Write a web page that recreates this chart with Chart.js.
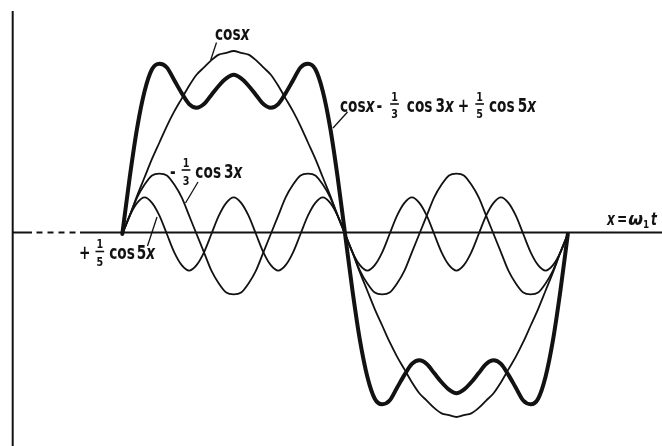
<!DOCTYPE html>
<html>
<head>
<meta charset="utf-8">
<script src="https://cdn.jsdelivr.net/npm/chart.js@4.4.1/dist/chart.umd.min.js"></script>
<style>
html,body{margin:0;padding:0;background:#fff;}
#wrap{width:662px;height:446px;position:relative;}
</style>
</head>
<body>
<div id="wrap"><canvas id="c"></canvas></div>
<script>
// x = omega_1 t, in degrees
const xDeg = [-90,-84,-78,-72,-66,-60,-54,-48,-42,-36,-30,-24,-18,-12,-6,0,6,12,18,24,30,36,42,48,54,60,66,72,78,84,90,96,102,108,114,120,126,132,138,144,150,156,162,168,174,180,186,192,198,204,210,216,222,228,234,240,246,252,258,264,270];

// cos x
const cosX = [0,0.10,0.21,0.31,0.41,0.50,0.59,0.67,0.74,0.81,0.87,0.91,0.95,0.98,0.99,1.00,0.99,0.98,0.95,0.91,0.87,0.81,0.74,0.67,0.59,0.50,0.41,0.31,0.21,0.10,0,-0.10,-0.21,-0.31,-0.41,-0.50,-0.59,-0.67,-0.74,-0.81,-0.87,-0.91,-0.95,-0.98,-0.99,-1.00,-0.99,-0.98,-0.95,-0.91,-0.87,-0.81,-0.74,-0.67,-0.59,-0.50,-0.41,-0.31,-0.21,-0.10,0];

// -1/3 cos 3x
const cos3X = [0,0.10,0.20,0.27,0.32,0.33,0.32,0.27,0.20,0.10,0,-0.10,-0.20,-0.27,-0.32,-0.33,-0.32,-0.27,-0.20,-0.10,0,0.10,0.20,0.27,0.32,0.33,0.32,0.27,0.20,0.10,0,-0.10,-0.20,-0.27,-0.32,-0.33,-0.32,-0.27,-0.20,-0.10,0,0.10,0.20,0.27,0.32,0.33,0.32,0.27,0.20,0.10,0,-0.10,-0.20,-0.27,-0.32,-0.33,-0.32,-0.27,-0.20,-0.10,0];

// +1/5 cos 5x
const cos5X = [0,0.10,0.17,0.20,0.17,0.10,0,-0.10,-0.17,-0.20,-0.17,-0.10,0,0.10,0.17,0.20,0.17,0.10,0,-0.10,-0.17,-0.20,-0.17,-0.10,0,0.10,0.17,0.20,0.17,0.10,0,-0.10,-0.17,-0.20,-0.17,-0.10,0,0.10,0.17,0.20,0.17,0.10,0,-0.10,-0.17,-0.20,-0.17,-0.10,0,0.10,0.17,0.20,0.17,0.10,0,-0.10,-0.17,-0.20,-0.17,-0.10,0];

// cos x - 1/3 cos 3x + 1/5 cos 5x
const sumX = [0,0.31,0.58,0.78,0.90,0.93,0.91,0.84,0.77,0.71,0.69,0.71,0.76,0.81,0.85,0.87,0.85,0.81,0.76,0.71,0.69,0.71,0.77,0.84,0.91,0.93,0.90,0.78,0.58,0.31,0,-0.31,-0.58,-0.78,-0.90,-0.93,-0.91,-0.84,-0.77,-0.71,-0.69,-0.71,-0.76,-0.81,-0.85,-0.87,-0.85,-0.81,-0.76,-0.71,-0.69,-0.71,-0.77,-0.84,-0.91,-0.93,-0.90,-0.78,-0.58,-0.31,0];

const INK = '#121212';
const FAMILY = '"DejaVu Sans"';
const SX = 0.72;

function series(label, vals, width) {
  return {
    label: label,
    data: xDeg.map((x, i) => ({ x: x, y: vals[i] })),
    borderColor: INK,
    borderWidth: width,
    pointRadius: 0,
    cubicInterpolationMode: 'monotone',
    fill: false,
    borderCapStyle: 'round',
    borderJoinStyle: 'round'
  };
}

// annotation text (formula tokens) with anchor in data units
const annotations = [
  { at: [-15.09, 1.0574], size: 19, tokens: ['cos', {i: 'x'}],
    leader: [[-13.88, 1.0464], [-18.57, 0.9508]] },
  { at: [-51.45, 0.3060], size: 19, tokens: ['-', {g: 6}, {f: ['1', '3']}, {g: 5}, 'cos', {g: 3}, '3', {i: 'x'}],
    leader: [[-28.83, 0.2842], [-38.93, 0.1694]] },
  { at: [-124.99, -0.1393], size: 19, tokens: ['+', {g: 5}, {f: ['1', '5']}, {g: 5}, 'cos', {g: 2}, '5', {i: 'x'}],
    leader: [[-69.64, -0.0656], [-61.96, 0.0929]] },
  { at: [85.92, 0.6667], size: 19, tokens: ['cos', {i: 'x'}, {g: 2}, '-', {g: 8}, {f: ['1', '3']}, {g: 8}, 'cos', {g: 3}, '3', {i: 'x'}, {g: 4}, '+', {g: 6}, {f: ['1', '5']}, {g: 5}, 'cos', {g: 3}, '5', {i: 'x'}],
    leader: [[91.98, 0.6667], [80.26, 0.5792]] },
  { at: [301.68, 0.0492], size: 17, tokens: [{i: 'x'}, {g: 2}, '=', {g: 1}, {i: 'ω', sx: 1}, {sub: '1'}, {g: 2}, {i: 't'}] }
];

function putText(ctx, text, font, x, y, sx, align) {
  ctx.save();
  ctx.font = font;
  ctx.textAlign = align || 'left';
  ctx.textBaseline = 'alphabetic';
  ctx.translate(x, y);
  ctx.scale(sx, 1);
  ctx.fillText(text, 0, 0);
  const w = ctx.measureText(text).width * sx;
  ctx.restore();
  return w;
}
function measure(ctx, text, font, sx) {
  ctx.save(); ctx.font = font; const w = ctx.measureText(text).width * sx; ctx.restore(); return w;
}

function drawTokens(ctx, x0, y0, tokens, size) {
  let cx = x0;
  const normal = `bold ${size}px ${FAMILY}`;
  const italic = `italic bold ${size}px ${FAMILY}`;
  const small = `bold 12px ${FAMILY}`;
  for (const t of tokens) {
    if (typeof t === 'string') {
      cx += putText(ctx, t, normal, cx, y0, SX);
    } else if (t.i !== undefined) {
      cx += putText(ctx, t.i, italic, cx, y0, t.sx || SX);
    } else if (t.g !== undefined) {
      cx += t.g;
    } else if (t.sub !== undefined) {
      cx += putText(ctx, t.sub, `bold 11px ${FAMILY}`, cx, y0 + 3.5, 0.8);
    } else if (t.f) {
      const wn = measure(ctx, t.f[0], small, 0.8);
      const wd = measure(ctx, t.f[1], small, 0.8);
      const w = Math.max(wn, wd) + 2;
      putText(ctx, t.f[0], small, cx + w / 2, y0 - 11, 0.8, 'center');
      putText(ctx, t.f[1], small, cx + w / 2, y0 + 6.5, 0.8, 'center');
      ctx.fillRect(cx, y0 - 8.8, w, 1.6);
      cx += w;
    }
  }
}

const decorPlugin = {
  id: 'decor',
  beforeDraw(chart) {
    const ctx = chart.ctx;
    ctx.save();
    ctx.fillStyle = '#ffffff';
    ctx.fillRect(0, 0, chart.width, chart.height);
    ctx.restore();
  },
  beforeDatasetsDraw(chart) {
    const ctx = chart.ctx, xs = chart.scales.x, ys = chart.scales.y;
    ctx.save();
    ctx.strokeStyle = INK;
    ctx.lineWidth = 2;
    // vertical axis
    const vx = xs.getPixelForValue(-178.57);
    ctx.beginPath();
    ctx.moveTo(vx, ys.getPixelForValue(1.2186));
    ctx.lineTo(vx, ys.getPixelForValue(ys.min));
    ctx.stroke();
    // horizontal axis
    const hy = ys.getPixelForValue(0.0082);
    ctx.lineWidth = 1.8;
    ctx.beginPath();
    ctx.moveTo(xs.getPixelForValue(-179.13), hy);
    ctx.lineTo(xs.getPixelForValue(-162.97), hy);
    ctx.moveTo(xs.getPixelForValue(-124.18), hy);
    ctx.lineTo(xs.getPixelForValue(xs.max), hy);
    ctx.stroke();
    ctx.setLineDash([6, 5]);
    ctx.beginPath();
    ctx.moveTo(xs.getPixelForValue(-159.33), hy);
    ctx.lineTo(xs.getPixelForValue(-127.41), hy);
    ctx.stroke();
    ctx.restore();
  },
  afterDatasetsDraw(chart) {
    const ctx = chart.ctx, xs = chart.scales.x, ys = chart.scales.y;
    ctx.save();
    ctx.fillStyle = INK;
    ctx.strokeStyle = INK;
    for (const a of annotations) {
      drawTokens(ctx, xs.getPixelForValue(a.at[0]), ys.getPixelForValue(a.at[1]), a.tokens, a.size);
      if (a.leader) {
        ctx.lineWidth = 1.3;
        ctx.beginPath();
        ctx.moveTo(xs.getPixelForValue(a.leader[0][0]), ys.getPixelForValue(a.leader[0][1]));
        ctx.lineTo(xs.getPixelForValue(a.leader[1][0]), ys.getPixelForValue(a.leader[1][1]));
        ctx.stroke();
      }
    }
    ctx.restore();
  }
};

new Chart(document.getElementById('c'), {
  type: 'line',
  data: {
    datasets: [
      series('cos x − 1/3 cos 3x + 1/5 cos 5x', sumX, 4),
      series('cos x', cosX, 1.8),
      series('−1/3 cos 3x', cos3X, 1.8),
      series('+1/5 cos 5x', cos5X, 1.8)
    ]
  },
  options: {
    responsive: true,
    maintainAspectRatio: false,
    animation: false,
    events: [],
    layout: { padding: 0 },
    plugins: { legend: { display: false }, tooltip: { enabled: false }, title: { display: false } },
    scales: {
      x: { type: 'linear', min: -188.83, max: 346.1, display: false },
      y: { type: 'linear', min: -1.1585, max: 1.2787, display: false }
    }
  },
  plugins: [decorPlugin]
});
</script>
</body>
</html>
